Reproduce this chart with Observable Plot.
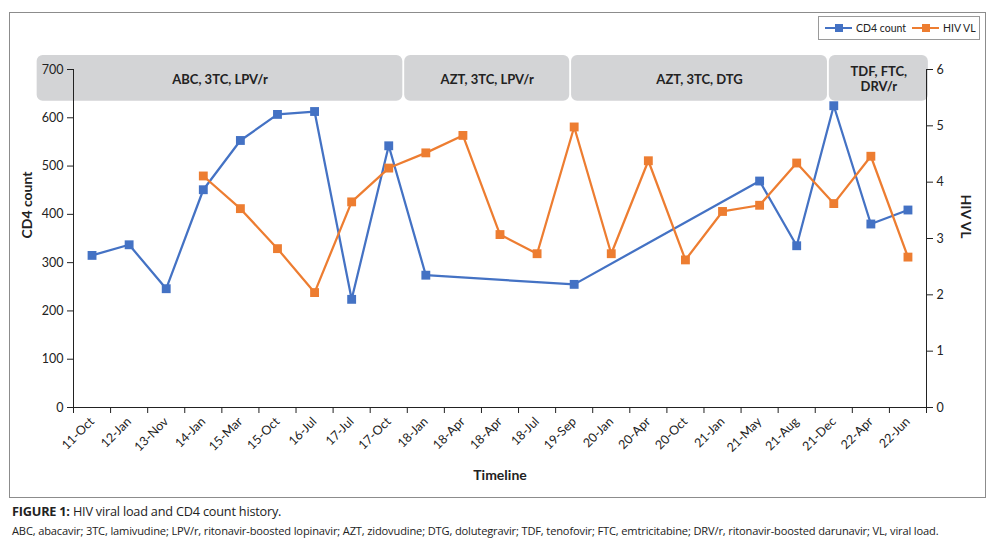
<!DOCTYPE html>
<html><head><meta charset="utf-8">
<script src="https://cdn.jsdelivr.net/npm/d3@7"></script>
<script src="https://cdn.jsdelivr.net/npm/@observablehq/plot@0.6"></script>
<style>
body{margin:0;background:#fff;font-family:Lato,"Open Sans",sans-serif;color:#222;}
#frame{position:absolute;left:9px;top:12px;width:975px;height:484px;border:1px solid #8c8c8c;}
#chart{position:absolute;left:0;top:0;}
#legend{position:absolute;left:808px;top:3px;width:160px;height:22px;border:1px solid #9a9a9a;display:flex;align-items:center;font-size:10.5px;color:#222;background:#fff;white-space:nowrap;}
#legend .item{display:flex;align-items:center;margin-left:6px;white-space:nowrap;}
#legend svg{margin-right:4px;flex:none;}
#caption{position:absolute;left:12px;top:503px;font-family:"Open Sans",sans-serif;color:#222;white-space:nowrap;}
#caption .c1{font-size:12.7px;line-height:16px;letter-spacing:-0.2px;}
#caption .c2{font-size:11.1px;line-height:16px;margin-top:4px;letter-spacing:-0.15px;}
</style>
</head><body>
<div id="frame">
  <div id="chart"></div>
  <div id="legend"></div>
</div>
<div id="caption">
  <div class="c1"><b>FIGURE 1:</b> HIV viral load and CD4 count history.</div>
  <div class="c2">ABC, abacavir; 3TC, lamivudine; LPV/r, ritonavir-boosted lopinavir; AZT, zidovudine; DTG, dolutegravir; TDF, tenofovir; FTC, emtricitabine; DRV/r, ritonavir-boosted darunavir; VL, viral load.</div>
</div>
<script>
const timeline = ["11-Oct","12-Jan","13-Nov","14-Jan","15-Mar","15-Oct","16-Jul","17-Jul","17-Oct","18-Jan","18-Apr","18-Apr","18-Jul","19-Sep","20-Jan","20-Apr","20-Oct","21-Jan","21-May","21-Aug","21-Dec","22-Apr","22-Jun"];
const cd4Count = [315,337,246,451,553,607,613,224,542,274,null,null,null,255,null,null,null,null,469,335,625,380,409];
const hivVL = [null,null,null,4.11,3.53,2.82,2.04,3.65,4.25,4.52,4.83,3.07,2.73,4.98,2.73,4.38,2.62,3.48,3.59,4.34,3.62,4.46,2.67];
const cd4Ticks = [0,100,200,300,400,500,600,700];
const vlTicks = [0,1,2,3,4,5,6];
const regimenLabels = ["ABC, 3TC, LPV/r","AZT, 3TC, LPV/r","AZT, 3TC, DTG","TDF, FTC,\nDRV/r"];
const regimenStart = [-0.98, 8.93, 13.43, 20.38];
const regimenEnd = [8.88, 13.38, 20.33, 23.05];

const blue = "#4472C4", orange = "#ED7D31";
const cd4Max = cd4Ticks[cd4Ticks.length-1], vlMax = vlTicks[vlTicks.length-1];
const vlToCd4 = v => v * cd4Max / vlMax;

const rows = timeline.map((t,i)=>({i, t, cd4: cd4Count[i], vl: hivVL[i]}));
const cdRows = rows.filter(d=>d.cd4 != null);
const vlRows = rows.filter(d=>d.vl != null);
const regimens = regimenLabels.map((label,k)=>({label, start: regimenStart[k], end: regimenEnd[k]}));
const n = timeline.length;

const chart = Plot.plot({
  width: 975, height: 484,
  marginLeft: 63, marginRight: 59, marginTop: 56, marginBottom: 90,
  x: {domain: [0, n], axis: null},
  y: {domain: [0, cd4Max], axis: null},
  style: {fontFamily: "Lato, 'Open Sans', sans-serif", fontSize: "12.5px", color: "#222", background: "transparent"},
  marks: [
    Plot.rect(regimens, {x1: "start", x2: "end", y1: 634, y2: 729, fill: "#d3d4d6", rx: 6}),
    Plot.text(regimens, {x: d => (d.start + d.end)/2, y: 681, text: "label", fontWeight: "bold", fontSize: 13, lineHeight: 1.2, fill: "#222"}),
    Plot.axisY({anchor: "left", ticks: cd4Ticks, tickSize: 6, tickPadding: 4, tickFormat: d => String(d), label: null}),
    Plot.axisY({anchor: "right", ticks: vlTicks.map(vlToCd4), tickSize: 6, tickPadding: 4, tickFormat: d => String(Math.round(d * vlMax / cd4Max)), label: null}),
    Plot.ruleX([0, n], {y1: 0, y2: cd4Max, stroke: "#222"}),
    Plot.ruleY([0], {x1: 0, x2: n, stroke: "#222"}),
    Plot.axisX({ticks: d3.range(n + 1), tickSize: 6, tickFormat: () => "", label: null}),
    Plot.axisX({ticks: d3.range(n).map(i => i + 0.5), tickSize: 0, tickPadding: 12, tickRotate: -45, tickFormat: d => timeline[Math.floor(d)], label: null}),
    Plot.line(cdRows, {x: d => d.i + 0.5, y: "cd4", stroke: blue, strokeWidth: 2.25}),
    Plot.dot(cdRows, {x: d => d.i + 0.5, y: "cd4", symbol: "square", fill: blue, r: 5}),
    Plot.line(vlRows, {x: d => d.i + 0.5, y: d => vlToCd4(d.vl), stroke: orange, strokeWidth: 2.25}),
    Plot.dot(vlRows, {x: d => d.i + 0.5, y: d => vlToCd4(d.vl), symbol: "square", fill: orange, r: 5}),
    Plot.text(["CD4 count"], {text: d => d, frameAnchor: "left", dx: -46, rotate: -90, fontWeight: "bold", fontSize: 14, fill: "#222"}),
    Plot.text(["HIV VL"], {text: d => d, frameAnchor: "right", dx: 39, rotate: 90, fontWeight: "bold", fontSize: 14, fill: "#222"}),
    Plot.text(["Timeline"], {text: d => d, frameAnchor: "bottom", dy: 72, fontWeight: "bold", fontSize: 14, fill: "#222"})
  ]
});
document.getElementById("chart").appendChild(chart);

const legend = document.getElementById("legend");
[["CD4 count", blue], ["HIV VL", orange]].forEach(([name, color]) => {
  const item = document.createElement("div");
  item.className = "item";
  item.innerHTML = `<svg width="27" height="10"><line x1="0" y1="5" x2="27" y2="5" stroke="${color}" stroke-width="2"/><rect x="10" y="1" width="8" height="8" fill="${color}"/></svg><span>${name}</span>`;
  legend.appendChild(item);
});
</script>
</body></html>
